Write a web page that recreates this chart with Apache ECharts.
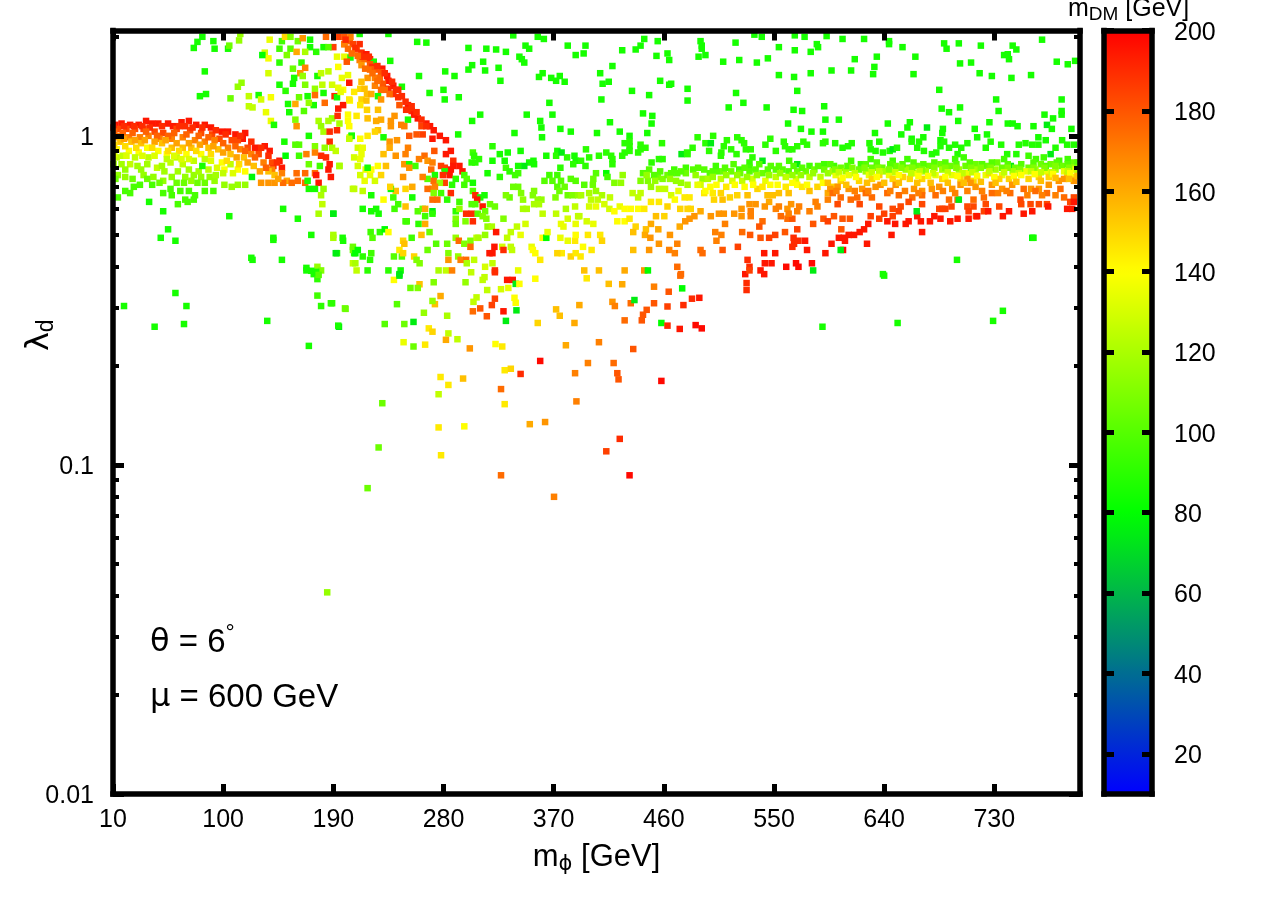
<!DOCTYPE html>
<html><head><meta charset="utf-8">
<script src="https://cdn.jsdelivr.net/npm/echarts@6/dist/echarts.min.js"></script>
<style>html,body{margin:0;padding:0;background:#fff}#c{width:1284px;height:899px}</style></head>
<body><div id="c"></div>
<script>
// [m_phi (GeV), lambda_d, m_DM (GeV)]
const leftBand = [[17,1.09,195],[12,1.08,195],[24,1.08,195],[31,1.08,195],[37,1.11,195],[42,1.09,195],[47,1.09,195],[55,1.09,195],[59,1.07,195],[66,1.10,195],[72,1.11,195],[78,1.08,195],[85,1.08,195],[90,1.06,195],[99,1.03,195],[104,1.03,195],[110,1.01,195],[118,1.02,195],[116,.98,195],[126,.92,195],[134,.93,195],[138,.90,195],[146,.84,195],[148,.80,195],[141,.81,195],
[14,1.05,183],[21,1.05,183],[28,1.05,183],[35,1.05,183],[44,1.03,183],[51,1.02,183],[62,1.05,183],[73,1.04,183],[82,1.02,183],[91,1.01,183],[97,.98,183],[107,.97,183],[112,.97,183],[120,.92,183],[129,.88,183],[140,.83,183],
[14,1.00,170],[23,.99,170],[32,.99,170],[39,1.00,170],[48,.98,170],[58,.98,170],[67,.99,170],[77,.97,170],[85,.96,170],[93,.97,170],[104,.92,170],[114,.91,170],[123,.88,170],[133,.83,170],[140,.79,170],[148,.77,170],
[16,.96,155],[25,.96,155],[33,.95,155],[50,.95,155],[58,.92,155],[67,.92,155],[74,.92,155],[88,.92,155],[96,.91,155],[106,.88,155],[117,.86,155],[125,.81,155],[137,.78,155],[142,.76,155],[152,.73,160],[160,.77,175],[167,.77,175],[175,.77,175],
[131,.72,165],[137,.72,165],[142,.72,165],[149,.72,175],[156,.72,175],[161,.73,175],[167,.72,175],[178,.72,195],[176,.76,195],[188,.75,195],[186,.79,195],[184,.86,190],[180,.87,190],[187,.82,195],
[13,.91,140],[23,.90,140],[31,.89,140],[38,.92,140],[47,.90,140],[54,.88,140],[70,.88,140],[82,.88,140],[99,.83,140],[101,.79,140],[112,.79,140],[118,.78,140],
[13,.86,125],[18,.87,125],[28,.86,125],[39,.86,125],[54,.85,125],[62,.86,125],[76,.84,125],[85,.85,125],[100,.77,125],[106,.82,125],[88,.79,125],[46,.80,125],[57,.83,125],[67,.82,125],[24,.82,125],
[33,.79,115],[20,.79,115],[14,.76,115],[20,.75,115],[35,.76,115],[43,.75,115],[69,.75,115],[76,.76,115],[82,.75,115],[89,.75,115],[51,.73,115],[58,.75,115],[93,.73,115],[74,.73,115],[101,.71,115],[112,.71,115],[107,.70,115],[118,.71,115],
[27,.70,97],[20,.68,97],[14,.65,97],[24,.67,97],[32,.71,97],[42,.71,97],[51,.67,97],[57,.69,97],[58,.66,97],[65,.68,97],[72,.68,97],[77,.66,97],[85,.68,97],[92,.68,97],[69,.64,97],[76,.64,97],[63,.62,97],[71,.63,97]];
const leftBandDense = [[10.5,1.06,190],[19,1.07,190],[27,1.07,190],[34,1.07,190],[40,1.06,190],[50,1.07,190],[64,1.07,190],[69,1.07,190],[75,1.06,190],[83,1.06,190],[94,1.04,190],[102,1.01,190],[114,1.0,190],[123,.96,190],[131,.92,190],[137,.87,190],[144,.83,190],
[11,1.03,177],[18,1.02,177],[26,1.02,177],[37,1.03,177],[46,1.0,177],[55,1.0,177],[60,1.02,177],[70,1.01,177],[80,1.0,177],[88,.99,177],[100,.95,177],[110,.93,177],[118,.9,177],[126,.86,177],[135,.8,177],
[11,.99,162],[19,.98,162],[28,.97,162],[36,.97,162],[44,.96,162],[53,.97,162],[62,.95,162],[72,.95,162],[81,.94,162],[92,.93,162],[100,.89,162],[111,.86,162],[120,.83,162],[130,.78,162],[145,.74,162],
[11,.94,148],[20,.93,148],[29,.92,148],[42,.92,148],[55,.9,148],[64,.9,148],[78,.9,148],[90,.88,148],[103,.84,148],[113,.82,148],
[11,.88,132],[21,.87,132],[34,.87,132],[44,.87,132],[60,.87,132],[66,.85,132],[72,.85,132],[90,.84,132],[95,.8,132],[108,.77,132],
[10.5,.82,118],[17,.82,118],[30,.81,118],[38,.82,118],[50,.81,118],[52,.78,118],[63,.78,118],[72,.79,118],[80,.78,118],[94,.76,118],
[12,.74,105],[26,.74,105],[38,.74,105],[48,.72,105],[62,.72,105],[68,.72,105],[79,.72,105],[85,.72,105]];
const leftScatter = [[39.5,.63,85],[51,.59,85],[105,.57,85],[55,.52,85],[49,.49,85],[61,.48,85],[124,.42,85],[148,.42,85],[149,.60,85],[141,.49,85],[172,.50,85],[161,.56,85],[190,.58,85],[198,.48,85],[193,.44,85],[168,.39,85],[123.5,.75,78],[83,.81,85],[150,.96,85],[170,1.0,85],
[83,2.0,85],[79,1.93,85],[76,1.85,85],[92,1.94,85],[93,1.84,85],[104,1.84,85],[105,1.88,105],[114,2.04,115],[113,1.95,115],[85,1.57,85],[115,1.45,115],[112,1.41,115],[81,1.32,85],[86,1.34,85],[106,1.30,105],[121,1.32,125],[129,1.33,85],[131,1.29,130],[139,1.31,138],[121,1.23,125],[124,1.22,125],[135,1.18,135],[139,1.11,135],[141.5,1.08,85],
[138,1.96,135],[148,1.94,95],[150.5,2.0,150],[155,2.0,110],[161,1.94,105],[165,1.98,165],[171,1.96,85],[171,1.86,85],[182,1.86,85],[184,2.0,175],[146,1.84,95],[155,1.84,100],[160,1.80,160],[152,1.76,110],[167,1.80,120],[176,1.80,90],[134,1.79,130],[137,1.72,138],[132,1.76,80],[146,1.67,90],[164,1.67,90],[157,1.60,105],[167,1.61,170],[163,1.55,165],[137,1.55,130],[177,1.52,85],[180,1.55,125],[186,1.57,125],[158,1.50,85],[165,1.52,115],[146,1.43,85],[157,1.44,85],[167,1.43,110],[181,1.43,125],[189,1.43,130],[151,1.37,90],[175,1.39,115],[182,1.35,85],[175,1.33,175],[162,1.31,105],[169,1.32,85],[183,1.26,175],[159,1.25,160],[174,1.24,85],[170,1.26,115],[153,1.25,85],[154,1.18,85],[166,1.19,100],[159,1.12,110],[160,1.07,165],[178,1.11,120],[180,1.07,115],[182,1.03,120],[189,1.13,115],[186,1.11,120],[195,1.09,120],[187,1.03,190],[193,1.04,190],[187,.96,190],[159,.94,100],[162,.94,100],[175,.93,110],[183,.92,115],[189,.92,120],[192,.90,125],[168,.88,170],[175,.89,170],[151,.87,80],[162,.87,95],[170,.82,105],[179,.81,95],[195,.81,120],[169,.73,85],[170,.69,85],[175,.69,85],[182,.69,115],[180,.66,120],[181,.62,125],[178,.58,120],[190,.49,120],[206,.46,105],[207,.44,85],[177,.40,115],[180,.39,110],[174,.38,85],[206,.41,125],[206,.69,125]];
const ridge = [[194,2.0,185],[199,2.0,180],[203.5,1.94,175],[199,1.9,175],[190,1.86,185],[186,1.86,100],[193,1.74,135],[199,1.74,135],[204,1.73,85],[201,1.68,180],[194,1.62,140],[202,1.53,135],[197,1.50,135],[203,1.45,195],[194,1.40,135],[198,1.38,140],[191,1.32,190],[193,1.31,85],[203.5,1.28,140],[198,1.24,195],[194,1.21,195],[193.5,1.15,190],[202,1.16,140],[202,1.11,140],[205,1.00,85],[203.5,.99,135],[196,1.36,135],
[204,2.0,170],[211.5,2.04,85],[235,2.04,85],[199,1.9,170],[206,1.90,185],[211.5,1.9,190],[202,1.84,175],[209,1.83,185],[213,1.79,190],[217,1.77,195],[211.5,1.70,170],[215.5,1.71,175],[220,1.71,190],[223,1.68,85],[213,1.64,165],[220,1.65,180],[222,1.62,190],[230,1.6,195],[220,1.59,175],[224,1.59,180],[229,1.56,180],[234,1.52,195],[218,1.5,165],[224,1.5,170],[228,1.5,175],[235,1.47,195],[213,1.46,155],[224,1.42,170],[230.5,1.44,180],[239,1.42,195],[246,1.41,85],[229,1.38,175],[235,1.39,190],[243,1.38,190],[212,1.39,150],[215.5,1.39,155],[207,1.36,145],[217.5,1.34,155],[239,1.34,190],[243,1.31,190],[221,1.34,160],[226.5,1.32,85],[229,1.29,165],[203,1.29,145],[213,1.29,150],[217,1.28,155],[212,1.24,145],[244,1.24,180],[251,1.24,195],[217.5,1.20,150],[226.5,1.20,155],[249.5,1.20,190],[254,1.19,190],[256,1.16,195],[259,1.13,195],[209,1.15,145],[218,1.13,155],[240,1.15,165],[251,1.12,85],[225,1.11,160],[229,1.12,160],[237,1.11,165],[266,1.09,195],[203,1.07,140],[237,1.07,165],[245.5,1.08,170],[248,1.07,170],[262,1.07,185],[269,1.07,195],[272,1.04,195],[226.5,1.04,155],[224,1.03,150],[218,1.0,145],[252,1.0,180],[258,1.01,180],[263,1.01,185],[277,1.0,195],[205,1.0,85],[203,.98,125],[212,.98,140],[231,.99,85],[292,1.01,85],[271,.98,195],[282,.97,195],[236,.96,165],[242,.97,165],[236,.92,160],[251,.92,170],[210,.92,130],[214,.92,135],[272.5,.90,180],[249,.88,170],[231,.88,155],[241,.87,165],[207,.86,130],[213,.88,135],[212,.85,135],[282,.88,195],[286,.90,195],[264.5,.87,175],[260,.85,170],[267,.84,165],[271,.83,170],[288,.84,190],
[200,1.96,190],[208,1.85,190],[214,1.74,190],[219,1.74,190],[226,1.63,190],[232,1.55,190],[238,1.46,190],[241,1.38,190],[246,1.32,190],[249,1.27,190],[254,1.23,190],[258,1.18,190],[262,1.12,190],[266,1.07,190],[205,1.78,175],[210,1.75,175],[216,1.6,175],[222,1.55,175],[226,1.47,175],[232,1.38,175],[236,1.34,175]];
const midScatter = [[304,.89,95],[305,.87,90],[248,.82,165],[252,.82,85],[257,.81,95],[281,.80,185],[293,.81,195],[303,.83,90],[306,.83,90],[309,.85,90],[320,.84,85],[326,.88,85],[332.5,.89,85],[320,.93,90],[343,.90,85],[364,.87,85],[373,.90,85],[372,.87,90],[376.5,.89,75],[330,.84,85],[353.5,.84,85],[350,.83,85],[354,.82,85],[381,.86,90],[387,.87,85],[388,.84,85],[386,.82,90],[375.5,.80,90],[346,.81,75],[341,.81,85],[331,.80,95],[334,.78,90],[341,.77,95],[338.5,.76,95],[316,.77,85],[326,.75,90],[252,.80,165],[270,.79,175],[278,.81,185],[288,.81,195],[286,.79,195],[281,.78,85],[285,.76,195],[279.5,.76,190],[295.5,.78,195],[297,.76,95],[299,.74,100],[290,.74,90],[273,.76,85],[267,.74,100],[263,.75,170],[247,.75,165],[272,.73,175],[281,.72,185],[277,.72,115],[287,.71,90],[297,.71,95],[304,.72,85],[271,.69,170],[267,.69,175],[273,.7,170],[254.5,.70,160],[249,.69,150],[241,.68,155],[237,.69,80],[236.5,.7,150],[304,.68,100],[278,.67,95],[272,.67,110],[286,.67,190],[306,.66,190],[313.5,.66,85],[310,.65,85],[307.5,.64,195],[254.5,.65,85],[221,.66,85],[231,.64,140],[239,.65,95],[271,.64,175],[275,.64,175],[283,.64,90],[293,.63,95],[303,.62,100],[243,.62,95],[240,.6,95],[249,.61,155],[214,.60,85],[221,.59,85],[225,.6,85],[227,.58,85],[190,.58,75],[259,.59,100],[263,.6,105],[265,.6,160],[271,.59,75],[265,.57,95],[271,.58,90],[290,.59,90],[293,.60,115],[312,.61,195],[306,.62,100],[318,.62,105],[322,.61,105],[298.5,.58,190],[303,.58,190],[304,.55,190],[308,.58,100],[314,.59,105],[312,.57,110],[315,.56,110],[329,.56,110],[290,.56,110],[298,.55,110],[290,.54,105],[249,.55,95],[250,.55,95],[259.6,.54,90],[265,.54,160],[316,.53,115],[319.5,.53,120],[340,.53,125],[347,.54,130],[323,.51,195],[220.5,.51,95],[228,.51,90],[232,.52,80],[235,.51,140],[268.6,.51,105],[262,.5,155],[335,.51,125],[314,.5,115],[307,.49,125],[343,.5,135],[332,.49,125],[222,.49,100],[190,.5,120],[197.6,.49,85],[254,.49,95],[247,.48,150],[248,.47,155],[290,.49,115],[292.5,.48,175],[297,.47,110],[302,.48,110],[308.6,.49,120],[274,.47,100],[283,.47,105],[302,.46,175],[321.6,.46,195],[328,.46,130],[329,.45,190],[335,.46,125],[336,.45,125],[352,.46,135],[353,.45,140],[355,.44,140],[361,.49,140],[364,.49,80],[365,.51,135],[375.5,.49,135],[381.5,.48,135],[387.5,.48,145],[388,.5,140],[376.6,.44,145],[373,.44,150],[384,.43,150],[388,.44,145],[359,.42,145],[206,.45,105],[210,.45,80],[208,.44,80],[214,.43,90],[221,.44,95],[220,.42,90],[192,.44,75],[239.5,.43,100],[246,.43,100],[244,.45,145],[247,.44,150],[267,.45,105],[256,.43,150],[284,.44,110],[284,.42,165],[292,.43,115],[294,.42,170],[298.5,.42,175],[299,.41,120],[305,.42,125],[317.6,.44,195],[320,.44,195],[320,.41,125],[314,.4,130],[322,.39,190],[322,.385,190],[341,.39,135],[258,.42,110],[260.5,.41,110],[208,.41,120],[209,.39,125],[218,.39,90],[235,.39,90],[245,.39,85],[244,.38,75],[276,.39,120],[282,.39,125],[287,.39,170],[302.6,.385,125],
[207,.69,125],[214,.68,125],[215.6,.73,135],[212,.76,130],[220,.76,135],[229,.76,150],[224,.73,130],[216.4,.79,135],[221,.79,140],[226.4,.81,140],[233,.81,155],[210,.81,130],[195,.81,120],[218,.80,85],
[337,.70,105],[341,.70,105],[343.4,.67,110],[334,.65,105],[331,.66,110],[345,.64,115],[354,.68,110],[353,.66,110],[357,.64,115],[360,.64,115],[354,.62,120],[358,.62,120],[361,.58,125],[345,.6,120],[348,.6,120],[372,.58,125],[380,.6,120],[387.5,.61,125],[390,.57,125],[381.5,.56,130],[376,.54,135],[378,.53,135],[388,.54,135],[366.5,.76,95],[373,.76,95],[362.5,.73,100],[369,.73,100],[376,.73,100],[373,.7,100],[379,.7,105],[384,.74,100],[381.5,.66,105],[385.5,.66,110],[390,.66,115],[371.5,.65,110],[388,.73,100],[374.7,.68,105]];
const topScatter = [[258.5,1.93,85],[266,1.92,85],[300.4,1.85,85],[315,1.84,85],[323,1.83,85],[331,1.80,85],[337,2.02,85],[357,2.0,85],[362,1.97,85],[381.5,1.88,85],[388,1.76,85],[347,1.88,85],[350,1.84,85],[342,1.74,85],[344,1.71,85],[346,1.67,85],[312.4,1.68,85],[303.4,1.64,85],[300.4,1.59,85],[314,1.58,85],[325,1.61,85],[236.5,1.69,85],[281.4,1.57,85],[289,1.52,85],[260,1.52,85],[326.5,1.47,85],[361,1.55,85],[358,1.51,85],[368,1.5,85],[375,1.52,85],[372,1.47,85],[379,1.46,85],[280,1.38,85],[268.6,1.35,85],[281,1.29,85],[292.5,1.31,85],[366.5,1.26,85],[348,1.16,85],[369,1.16,85],[310,1.16,85],[303.4,1.11,85],[359,1.11,85],[360,1.06,85],[338,1.02,85],[375.5,1.05,85],[384,1.03,85],[360.5,.99,85],
[444,1.97,85],[455,1.94,85],[441,1.88,85],[437,1.83,85],[426,1.82,85],[396,1.88,85],[394.5,1.78,85],[418,1.63,85],[454,1.75,85],[463,1.78,85],[464.4,1.7,85],[408,1.55,85],[410,1.44,85],[415,1.46,85],[434,1.37,85],[448,1.33,85],[457,1.47,85],[464.4,1.43,85],[466,1.44,85],[409,1.29,85],[479.4,1.39,85],[479.4,1.28,85],[490,1.94,85],[491,1.88,85],[491,1.84,85],[494,1.76,85],[488.4,1.74,85],[508.5,1.68,85],[518.6,1.92,85],[521.6,1.70,85],[534,2.03,85],[540,2.0,85],[536,1.67,85],[545,1.72,85],[554,1.86,85],[567,2.02,85],[575,2.0,85],[567,1.82,85],[580,1.80,85],[585,1.9,85],[586,1.86,85],[593,2.01,85],[554,1.53,85],[566.4,1.51,85],[580,1.55,85],[569,1.37,85],[519,1.35,85],[513,1.22,85],[525,1.26,85],[544,1.22,85],[566,1.2,85],[573,1.19,85],[591,1.23,85],[592,1.12,85],[561.5,1.09,85],[572,1.05,85],[580.6,1.03,85],[590,1.03,85],[443,1.17,85],[450.6,1.15,85],[450,1.09,85],[416,1.1,85],[405.4,1.02,85],[424,1.03,85],[432,1.0,85],[446.5,1.02,85],
[606,1.97,85],[623.6,1.97,85],[644,1.94,85],[644,1.9,85],[655,1.86,85],[689,1.91,85],[691,1.84,85],[701,1.91,85],[719,1.88,85],[745,1.88,85],[748,1.83,85],[769,1.96,85],[738,1.76,85],[741,1.77,85],[742,1.71,85],[781,1.68,85],[790,1.65,85],[796,1.69,85],[702,1.66,85],[711,1.67,85],[616,1.71,85],[634,1.74,85],[632,1.62,85],[665.5,1.74,85],[597,1.58,85],[613,1.58,85],[631,1.54,85],[664,1.54,85],[718,1.55,85],[728,1.52,85],[744,1.5,85],[760,1.53,85],[685,1.38,85],[731.5,1.29,85],[785,1.29,85],[687,1.21,85],[693,1.18,85],[702,1.22,85],[733.5,1.19,85],[785,1.19,85],[785,1.16,85],[771,1.16,85],[778,1.13,85],[603,1.12,85],[643,1.09,85],[700.5,1.11,85],[726,1.1,85],[661,1.1,85],[659,1.06,85],[675,1.06,75],[741,1.09,85],[745,1.09,85],[749,1.07,85],[762,1.07,85],[773,1.08,75],[777,1.05,85],[793,1.05,85],[714,1.05,85],[688,1.05,85],[687.5,1.02,85],[724,1.01,85],[716,.99,85],[654,1.01,85],[632.5,1.02,85],[672,.99,85],[662.5,.98,85],[766,.99,85],[772,.97,85],[686,.97,85]];
const midBand = [[428,.95,90],[432,.96,90],[432,.93,90],[432,.90,90],[441,.94,90],[445,.92,90],[439,.89,90],[441,.91,90],[428,.89,90],[426,.87,90],[458.5,.95,90],[396.4,.91,90],[413,.89,90],[417,.87,90],[418,.85,90],[418,.82,90],[407,.87,90],[399,.86,90],[392.4,.84,90],[396,.81,90],[450,.83,90],[456,.85,90],[459,.85,90],[474.5,.88,75],[479,.89,90],[479.4,.88,90],[483.5,.92,90],[487.6,.99,90],[500.3,1.0,90],[494,.95,90],[498.4,.95,75],[497,.9,90],[511.5,.97,90],[509,.93,90],[507,.89,90],[506.6,.87,90],[515,.91,90],[519.4,.88,90],[520,.99,90],[523.5,.97,90],[525.6,.95,90],[527,.91,90],[531,.91,90],[532.4,.86,90],[547,.98,90],[543,.94,90],[551.5,.9,90],[558,.96,90],[559,.93,90],[562,.91,90],[565,.91,90],[569,.93,90],[574,.96,90],[577,.94,90],[590,.95,90],[592,.96,90],[540.6,.84,75],[530,.83,92],[530,.8,95],[562.4,.84,95],[569,.82,75],[579,.81,95],[591,.82,95],
[443,.77,100],[441,.73,110],[447,.73,110],[449.5,.70,115],[455,.75,105],[459,.74,110],[463,.76,105],[468.5,.79,95],[471,.77,100],[478,.8,95],[478,.77,105],[474,.72,115],[479.4,.71,120],[500,.78,100],[504,.78,100],[497.6,.77,100],[502.5,.81,95],[509,.78,105],[515,.78,105],[521.6,.79,95],[522.4,.77,105],[530,.78,100],[540.6,.77,105],[535,.79,100],[547.4,.81,100],[551.5,.79,100],[557,.79,100],[562,.78,100],[569,.78,105],[576,.78,105],[583,.79,105],[591,.79,105],[491.6,.74,115],[490,.71,130],[496,.74,120],[506.6,.74,125],[516,.73,130],[524,.73,125],[532.4,.74,130],[543,.73,135],[551.5,.75,125],[559.6,.75,125],[568,.74,130],[579,.75,125],[588,.75,125],[426.4,.76,115],[425,.72,115],[419.6,.72,110],[404.6,.77,100],[402.4,.74,105],[413,.77,80],[414,.75,95],[395,.71,100],[402,.71,105],
[404.6,.68,115],[399,.67,120],[409.5,.66,120],[392.4,.66,120],[406,.64,125],[400.5,.64,125],[416,.65,125],[411.4,.62,130],[399,.61,130],[404.6,.61,135],[415.5,.6,130],[424,.61,135],[419.6,.59,140],[428,.6,140],[433,.6,140],[439,.65,125],[434.5,.67,125],[441,.67,125],[439,.6,140],[444,.6,145],[449.5,.63,145],[456,.63,145],[463,.61,150],[456,.69,125],[461,.69,125],[472,.68,135],[466,.66,130],[469,.64,140],[477,.65,145],[481,.65,145],[473.4,.6,150],[479.4,.6,150],[482,.6,150],[487.6,.71,135],[493,.67,145],[501,.64,150],[494,.68,140],[500,.67,145],[511,.7,145],[506.6,.67,150],[508,.64,155],[514,.65,150],[520,.66,150],[528.4,.66,155],[536.5,.69,150],[544.7,.66,155],[549,.66,155],[554,.67,155],[562,.67,155],[579,.68,155],[585.5,.7,150],[594,.67,160],[540.6,.7,145],[559.6,.7,145],[569,.71,140],[573,.7,145],[546,.63,160],[530,.62,165],[535,.62,165],[542.5,.61,165],[554,.61,170],[551.5,.6,170],[564,.62,165],[561,.6,165],[570.5,.61,170],[584,.63,170],[585.5,.61,170],[594,.64,170],[569,.59,170],[579,.59,170],
[391,.57,125],[397,.55,130],[402.4,.54,135],[422,.55,140],[428,.55,140],[432,.56,145],[453.6,.57,155],[460.4,.57,150],[449.5,.54,160],[490,.59,160],[485,.57,165],[481,.56,165],[477.5,.55,165],[473,.53,160],[498.4,.57,165],[505,.58,165],[509,.58,165],[517.5,.58,165],[523.5,.6,165],[523.5,.57,165],[531,.59,170],[531,.57,170],[540.6,.55,175],[555.6,.57,175],[561,.56,175],[565,.56,180],[562,.58,170],[590.4,.56,180],[594,.55,185],[582,.54,180],[510,.54,170],[538,.53,180],[569,.52,185],[559,.51,180],[437,.53,150],[435,.51,155],[445.4,.52,155],[444.6,.5,160],[455.5,.52,160],[465,.5,165],[449,.49,165],[471,.47,170],[502,.51,170],[507,.5,170],[503,.48,170],[524,.51,175],[530.5,.5,180],[539,.49,180],[546,.49,185],[551,.5,185],[566,.49,190],[570,.48,190],[565,.46,190],[575.4,.48,195],[566.4,.47,190],[398,.5,145],[408,.5,145],[409.5,.48,150],[394,.46,140],[401,.45,145],[392,.43,145],[395,.39,155],[407,.39,155],[428,.39,160],[435,.45,155],[448,.45,165],[456,.47,165],[464.4,.45,170],[469,.44,170],[471,.4,175],[474,.38,175],[444,.39,165],[447,.39,80],[490,.45,175],[491.6,.44,175],[508,.45,180],[520.5,.46,185],[528.4,.42,190],[530,.4,190],[542,.44,195],[551,.44,195],[542.5,.41,195],[548,.41,195],[560,.4,198],[568,.41,198],[570,.4,198],[581,.41,198],[577,.45,195],[592,.44,195],[582,.39,75],[526.5,.38,195],[539,.39,195],[542,.38,195],
[448,.79,100],[452,.76,100],[457,.78,100],[466,.77,100],[474,.78,100],[484,.79,100],[488,.8,100],[493,.79,100],[510,.8,100],[517,.82,100],[526,.8,100],[538,.82,100],[545,.79,100],[554,.81,100],[566,.81,100],[573,.8,100],[586,.81,100],
[446,.76,115],[453,.73,115],[465,.74,115],[470,.73,115],[486,.76,115],[500,.75,115],[511,.76,115],[520,.76,115],[528,.75,115],[536,.76,115],[546,.76,115],[555,.77,115],[565,.76,115],[572,.76,115],[582,.77,115],[594,.77,115],
[498,.7,140],[503,.71,140],[518,.71,140],[526,.7,140],[533,.71,140],[547,.71,140],[553,.71,140],[565,.72,140],[577,.71,140],[590,.72,140]];
const rightBand = [[600,.95,88],[606,.92,88],[610.5,.93,88],[613.5,.95,88],[628,.95,88],[629,.91,88],[636,.96,88],[633,.9,88],[639,.89,88],[644.5,.9,88],[647,.91,75],[650.5,.92,88],[662.5,.96,88],[668.5,.96,88],[667,.92,88],[672.5,.9,88],[679,.88,88],[682.6,.89,88],[686,.93,88],[689,.96,88],[693,.92,88],[698,.94,88],[703,.92,88],[708,.95,88],[700,.88,88],[723,.92,88],[727,.96,88],[735.6,.94,88],[740.5,.88,88],[748,.88,88],[750,.94,88],[755.5,.95,88],[761,.94,88],[766,.94,88],[776,.88,75],[780,.92,88],[785.4,.97,88],[789.5,.94,88],[795,.94,88],
[599,.81,95],[613,.84,95],[621,.82,95],[629,.85,95],[647,.84,95],[659,.85,95],[705,.86,95],[698,.85,95],[738,.85,95],[758,.87,95],[764,.85,95],[770.4,.86,95],[783,.84,95],[790,.85,95],[743.5,.81,75],
[604.5,.8,105],[619.5,.79,105],[630,.8,105],[638.5,.8,105],[649.4,.81,105],[659,.8,105],[667,.81,105],[676.6,.81,105],[686,.82,105],[694,.81,105],[706.5,.81,105],[714.7,.82,105],[723,.81,105],[732.4,.83,105],[736.4,.8,105],[747,.8,105],[758,.8,105],[768,.82,105],[776,.82,105],[785.4,.81,105],[795,.83,105],
[598,.78,118],[608.6,.78,118],[625,.78,118],[641,.78,118],[657.6,.79,118],[674,.78,118],[687.5,.79,118],[701,.79,118],[714.7,.79,118],[731,.79,118],[745,.78,118],[763.6,.79,118],[780,.79,118],[793.6,.8,118],
[600.4,.76,135],[611,.76,135],[627.6,.76,135],[644,.76,135],[664.4,.77,135],[682,.76,135],[695.6,.76,135],[708,.77,135],[723,.76,135],[736.4,.76,135],[755.5,.78,135],[772,.78,135],[787,.78,135],[795,.79,135],
[599,.7,150],[604.5,.73,150],[619.5,.73,150],[630,.74,150],[636,.76,150],[647,.74,150],[655.4,.75,150],[661,.74,150],[671,.74,150],[687.5,.74,150],[702.4,.74,150],[713,.73,150],[725.6,.77,150],[734,.74,150],[742,.74,150],[758,.74,150],[766.4,.75,150],[774.5,.75,150],[789.5,.76,150],[795,.75,150],
[596,.69,165],[602,.7,165],[611,.69,165],[622,.69,165],[633,.7,165],[637,.71,165],[649.4,.71,165],[664.4,.69,165],[671,.68,165],[679,.69,165],[685,.7,165],[695.6,.69,165],[702.4,.71,165],[710.6,.72,165],[714.7,.7,165],[708,.74,165],[728,.71,165],[736.4,.69,165],[744.6,.71,165],[760,.69,165],[766.4,.69,165],[774.5,.71,165],[782.7,.73,165],[795,.73,165],[787,.74,165],
[598,.67,175],[604.5,.65,175],[612.7,.64,175],[618,.65,175],[625,.67,175],[630,.65,175],[642.6,.67,175],[652,.66,175],[663,.65,175],[671,.66,175],[682,.66,175],[693,.64,175],[700,.64,175],[713,.64,175],[721.5,.65,175],[728,.67,175],[743,.67,175],[754,.69,175],[763.6,.68,175],[773,.67,175],[784,.69,175],[787,.65,175],
[602,.62,183],[620,.62,183],[636,.61,183],[647,.6,183],[653.5,.61,183],[660,.63,183],[671,.62,183],[685,.6,183],[695,.61,183],[708,.61,183],[713,.61,183],[723,.62,183],[734,.61,183],[752,.62,183],[759.6,.62,183],[766.4,.62,183],[751.4,.64,183],[773,.62,183],[792,.63,183],[795,.65,183],
[599,.57,180],[606,.56,180],[612,.56,180],[629,.57,185],[636,.56,185],[640,.58,185],[652,.59,185],[647,.57,185],[709,.59,185],[715,.57,185],[721.5,.59,185],[690,.6,185],[687.5,.6,185],
[642.6,.55,195],[649,.54,195],[657.6,.54,195],[660,.55,195],[667,.57,195],[670,.55,195],[677.4,.55,195],[681,.57,195],[686,.56,195],[694,.55,195],[700,.56,195],[709,.56,195],[716,.57,195],[725,.59,195],[737,.57,195],[742,.59,195],[754,.58,195],[761,.59,195],[774,.61,195],[789.5,.6,195],[793.6,.6,195],[795,.63,195],[627,.54,195],[623.6,.52,195],[620,.51,195],[615.4,.5,195],[611,.5,195],[607,.49,195],[603,.49,195],[608,.48,195],[597,.47,195],[626,.47,195],[646,.5,195],[671,.51,195],[606.4,.45,198],[605,.52,180],[666.6,.59,75],[701,.64,75],[604.5,.45,75],[761,.49,80],[699.5,.42,85],[639,.38,85]];
const rightBandDense = [[596,.82,100],[610,.81,100],[625,.82,100],[634,.83,100],[645,.82,100],[655,.82,100],[664,.83,100],[672,.82,100],[681,.83,100],[690,.83,100],[699,.82,100],[710,.83,100],[720,.82,100],[728,.83,100],[741,.82,100],[752,.82,100],[762,.83,100],[772,.81,100],[781,.83,100],[790,.82,100],[798,.83,100],
[600,.79,110],[614,.8,110],[624,.8,110],[635,.8,110],[644,.79,110],[654,.8,110],[663,.8,110],[671,.79,110],[681,.8,110],[690,.8,110],[699,.8,110],[711,.8,110],[719,.8,110],[727,.8,110],[741,.8,110],[751,.79,110],[762,.8,110],[771,.8,110],[780,.81,110],[791,.8,110],[798,.8,110],
[603,.775,125],[616,.77,125],[630,.775,125],[636,.78,125],[649,.775,125],[662,.77,125],[669,.78,125],[680,.77,125],[692,.775,125],[704,.77,125],[712,.775,125],[726,.78,125],[738,.775,125],[750,.77,125],[760,.78,125],[768,.775,125],[777,.775,125],[790,.78,125],[798,.785,125],
[606,.745,140],[617,.75,140],[634,.75,140],[652,.76,140],[668,.755,140],[676,.755,140],[690,.75,140],[700,.755,140],[716,.755,140],[730,.75,140],[746,.755,140],[752,.76,140],[763,.765,140],[778,.765,140],[792,.77,140],
[594,.72,155],[609,.71,155],[626,.72,155],[640,.72,155],[652,.72,155],[667,.72,155],[678,.72,155],[692,.72,155],[705,.72,155],[719,.725,155],[731,.72,155],[748,.725,155],[768,.73,155],[780,.745,155],[791,.74,155],[798,.755,155],
[601,.68,170],[616,.68,170],[627,.68,170],[645,.68,170],[657,.68,170],[668,.67,170],[688,.68,170],[698,.67,170],[708,.68,170],[720,.68,170],[733,.67,170],[740,.68,170],[757,.66,170],[769,.66,170],[780,.66,170]];
const lowerScatter = [[239.5,.365,140],[244,.376,75],[260.4,.354,155],[253,.345,105],[259,.345,110],[272,.359,110],[298,.359,115],[312,.365,125],[313.5,.372,125],[315.7,.34,125],[327,.342,130],[333,.345,135],[332,.365,195],[336.6,.365,195],[339,.355,75],[342,.355,140],[355,.368,140],[397,.369,145],[415,.355,155],[426,.354,160],[452,.348,170],[464,.336,180],[475,.344,80],[473.5,.376,175],[277.6,.326,160],[273,.308,155],[271,.315,115],[307,.323,125],[304.5,.313,125],[322,.32,185],[310,.299,180],[319.5,.306,185],[338,.322,140],[339,.311,140],[329,.293,195],[304,.293,175],[339.6,.295,75],[242,.308,100],[264,.29,115],[283,.284,120],[315.4,.283,180],[331,.274,75],[199.5,.299,105],[188,.31,90],[194.6,.263,75],[232,.268,100],[248,.268,105],[255.5,.272,75],[268,.26,145],[271,.254,150],[284,.251,125],[282,.24,160],[291.4,.241,125],[247.4,.236,135],[255.5,.229,105],[265,.232,145],[301.5,.226,165],[322.5,.233,140],[328,.229,145],[372,.297,155],[375,.284,155],[357,.27,150],[387,.27,160],[391,.306,160],[380,.231,160],[407,.236,170],[435,.225,180],[359,.207,198],[398,.204,170],[419,.204,175],[422,.19,180],[423,.182,180],[458,.18,198],[343,.189,190],[330,.194,145],[335,.196,150],[277.6,.185,145],[296,.183,155],[284,.175,145],[387.5,.19,170],[327,.17,175],[276,.164,125],[230,.154,105],[330,.153,145],[388.6,.156,170],[276,.13,145],[297,.131,140],[350.5,.133,160],[363,.135,165],[424,.12,190],[413,.11,185],[227,.113,105],[278,.107,145],[327,.093,175],[432,.093,198],[218,.085,105],[370.3,.08,170],
[418,.313,165],[420,.304,170],[433,.31,175],[436,.317,75],[452,.31,180],[463,.303,185],[476,.306,190],[483,.32,190],[489,.322,195],[446,.296,180],[443,.286,180],[428,.275,175],[442,.275,180],[458,.27,80],[463,.265,190],[473,.259,195],[486,.266,198],[491,.26,198],
[19,.304,85],[44,.263,85],[61,.333,85],[70,.304,85],[68,.268,85],[136,.274,85],[170,.23,85],[194,.265,85],[200,.298,105],[189,.31,90],[177,.327,95],[180,.304,90],[177,.367,90],[172,.389,85],[176,.386,85],[178,.378,100],[168,.397,85],[123,.426,85],[141,.483,85],[185,.041,115],
[651,.27,85],[589.6,.263,85],[640,.376,85],[729,.274,85],[737,.294,85],[762,.49,85],[527.6,.34,190],[527.6,.357,190],[530,.39,185]];

const xTickLabels = [10,100,190,280,370,460,550,640,730];
const yMajorTicks = [0.01,0.1,1];
const yMinorTicks = [0.02,0.03,0.04,0.05,0.06,0.07,0.08,0.09,0.2,0.3,0.4,0.5,0.6,0.7,0.8,0.9,2];
const cbTicks = [20,40,60,80,100,120,140,160,180,200];
const colorStops = [[10,[0,0,255]],[80,[0,255,0]],[140,[255,255,0]],[200,[255,0,0]]];

const points = [].concat(leftBand,leftBandDense,leftScatter,ridge,midScatter,topScatter,midBand,rightBand,rightBandDense,lowerScatter);

function paletteAt(v){
  for(let i=1;i<colorStops.length;i++){
    const a=colorStops[i-1],b=colorStops[i];
    if(v<=b[0]){const t=(v-a[0])/(b[0]-a[0]);
      return 'rgb('+a[1].map((c,k)=>Math.round(c+(b[1][k]-c)*t)).join(',')+')';}
  }
  return 'rgb(255,0,0)';
}
const palette=[];for(let v=10;v<=200;v+=10)palette.push(paletteAt(v));

const FONT='"Liberation Sans"';
const BW=5.5;
const line={show:true,onZero:false,lineStyle:{color:'#000',width:BW,cap:'square'}};
const noLine={show:false};
const lab=(vals,extra)=>Object.assign({show:true,customValues:vals,color:'#000',fontFamily:FONT,fontSize:25,hideOverlap:false,showMinLabel:true,showMaxLabel:true},extra||{});
const tick=(vals,len,w)=>({show:true,inside:true,customValues:vals,length:len,lineStyle:{color:'#000',width:w}});
const rich={
  a:{fontFamily:FONT,fontSize:31,color:'#000'},
  s:{fontFamily:FONT,fontSize:23,color:'#000',padding:[14,0,0,0]},
  g:{fontFamily:'"DejaVu Sans"',fontSize:32,color:'#000'},
  gs:{fontFamily:'"DejaVu Sans"',fontSize:21,color:'#000',padding:[14,0,0,0]},
  an:{fontFamily:FONT,fontSize:33,color:'#000'},
  gn:{fontFamily:'"DejaVu Sans"',fontSize:32,color:'#000'},
  c:{fontFamily:FONT,fontSize:25,color:'#000'},
  cs:{fontFamily:FONT,fontSize:19,color:'#000',padding:[10,0,0,0]},
  sup:{fontFamily:FONT,fontSize:23,color:'#000',padding:[0,0,18,0]}
};
const tickRich={t:{fontFamily:FONT,fontSize:25,color:'#000',padding:[5,0,0,0]}};
const xBase={type:'value',gridIndex:0,min:10,max:800,splitLine:{show:false},minorTick:{show:false},z:10};
const yBase={type:'log',logBase:10,gridIndex:0,min:0.01,max:2.09,splitLine:{show:false},minorTick:{show:false},z:10};
const cxBase={type:'value',gridIndex:1,min:0,max:1,splitLine:{show:false},axisTick:{show:false},axisLabel:{show:false},z:10};
const cyBase={type:'value',gridIndex:1,min:10,max:200,splitLine:{show:false},minorTick:{show:false},z:10};

const option={
  animation:false,backgroundColor:'#fff',
  grid:[{left:113,top:30.5,width:967,height:763.5,outerBoundsMode:'none'},{left:1104,top:30.5,width:48,height:763.5,outerBoundsMode:'none'}],
  xAxis:[
    Object.assign({},xBase,{position:'bottom',axisLine:line,axisTick:tick(xTickLabels,10,5),axisLabel:lab(xTickLabels,{margin:14}),
      name:'{a|m}{gs|ϕ}{a| [GeV]}',nameLocation:'middle',nameGap:46,nameTextStyle:{rich}}),
    Object.assign({},xBase,{position:'top',axisLine:line,axisTick:tick(xTickLabels,10,5),axisLabel:{show:false}}),
    Object.assign({},cxBase,{gridIndex:1,position:'bottom',axisLine:line}),
    Object.assign({},cxBase,{gridIndex:1,position:'top',axisLine:line})
  ],
  yAxis:[
    Object.assign({},yBase,{position:'left',axisLine:line,axisTick:tick(yMajorTicks,11,5),axisLabel:lab(yMajorTicks,{margin:19,rich:tickRich,formatter:v=>'{t|'+String(+(+v).toPrecision(1))+'}'}),
      name:'{g|λ}{s|d}',nameLocation:'middle',nameGap:55,nameMoveOverlap:false,nameTextStyle:{rich,padding:[0,0,0,154]}}),
    Object.assign({},yBase,{position:'right',axisLine:line,axisTick:tick(yMajorTicks,11,5),axisLabel:{show:false}}),
    Object.assign({},yBase,{position:'left',axisLine:noLine,axisTick:tick(yMinorTicks,6,4),axisLabel:{show:false}}),
    Object.assign({},yBase,{position:'right',axisLine:noLine,axisTick:tick(yMinorTicks,6,4),axisLabel:{show:false}}),
    Object.assign({},cyBase,{position:'left',axisLine:line,axisTick:tick(cbTicks,10,5),axisLabel:{show:false}}),
    Object.assign({},cyBase,{position:'right',axisLine:line,axisTick:tick(cbTicks,10,5),axisLabel:lab(cbTicks,{margin:22,rich:tickRich,formatter:v=>'{t|'+v+'}'})})
  ],
  visualMap:{type:'continuous',seriesIndex:0,dimension:2,min:10,max:200,calculable:false,realtime:false,
    orient:'vertical',left:1104,top:30.5,itemWidth:48,itemHeight:763.5,padding:0,text:null,showLabel:false,
    inRange:{color:palette},textStyle:{color:'rgba(0,0,0,0)',fontSize:1},handleStyle:{opacity:0},indicatorStyle:{opacity:0},z:1},
  series:[{type:'scatter',xAxisIndex:0,yAxisIndex:0,data:points,symbol:'rect',symbolSize:6.5,itemStyle:{opacity:1},emphasis:{disabled:true},silent:true,z:3}],
  graphic:[
    {type:'text',left:1068,top:-3,z:20,style:{rich,text:'{c|m}{cs|DM}{c| [GeV]}',fill:'#000',fontFamily:FONT}},
    {type:'text',left:150,top:622,z:20,style:{rich,text:'{gn|θ}{an| = 6}{sup|°}',fill:'#000',fontFamily:FONT}},
    {type:'text',left:150,top:681,z:20,style:{rich,text:'{gn|μ}{an| = 600 GeV}',fill:'#000',fontFamily:FONT}}
  ]
};
const chart=echarts.init(document.getElementById('c'),null,{renderer:'canvas'});
chart.setOption(option);
</script></body></html>
